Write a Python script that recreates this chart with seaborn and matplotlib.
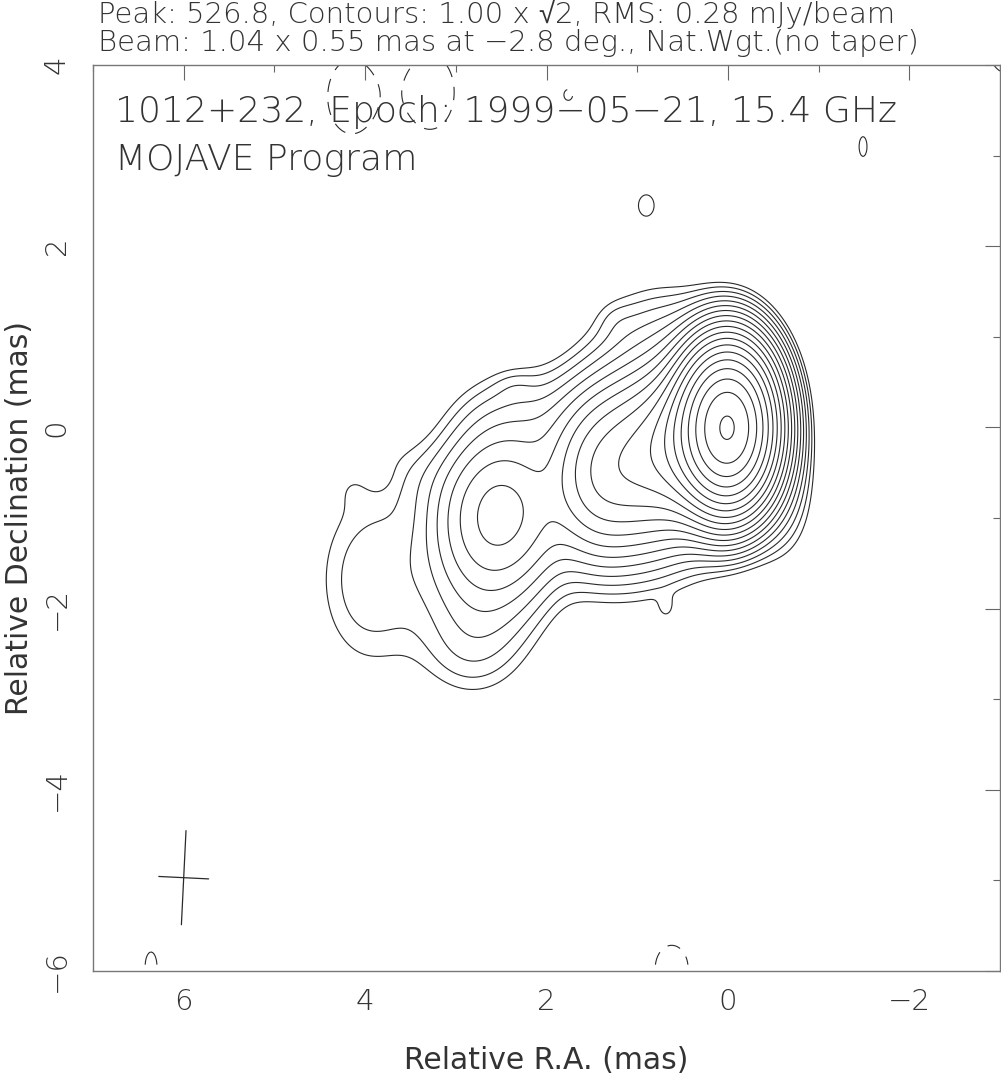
import numpy as np
import matplotlib
matplotlib.use("Agg")
import matplotlib.pyplot as plt
import seaborn as sns

# map header values
peak_flux = 526.8
base_level = 1.00
rms = 0.28
beam_major, beam_minor, beam_pa = 1.04, 0.55, -2.8
beam_ra, beam_dec = 6.0, -4.97

# gaussian components
# RA (mas), Dec (mas), peak (mJy/beam), sigma RA (mas), sigma Dec (mas)
comp_ra = [0.0, 0.45, 0.95, 1.45, 2.5, 1.0, 2.7, 2.3, 0.7, 3.5, 2.9, -0.6, 0.68,
           3.95, 4.15, 2.35, 1.25, 3.85]
comp_dec = [0.0, -0.15, -0.35, -0.55, -0.92, -0.45, -1.6, 0.05, 1.0, -0.5, -2.5, -0.8, -2.0,
            -1.68, -0.65, 0.45, 1.2, -0.55]
comp_peak = [520.0, 40.0, 22.0, 13.0, 11.0, 5.0, 3.5, 2.0, 2.0, 0.6, 0.7, 1.5, 0.6,
             1.8, 0.35, 0.35, 0.35, -0.3]
comp_sra = [0.265, 0.30, 0.35, 0.30, 0.40, 0.60, 0.45, 0.50, 0.45, 0.30, 0.35, 0.25, 0.07,
            0.44, 0.18, 0.15, 0.15, 0.15]
comp_sdec = [0.442, 0.45, 0.50, 0.50, 0.50, 0.75, 0.70, 0.40, 0.40, 0.30, 0.35, 0.50, 0.10,
             0.75, 0.18, 0.12, 0.15, 0.15]

# small noise patches around the field
noise_ra = [0.9, -1.49, 6.36, 3.81, -0.89, -3.1, 4.15, 3.28, 1.76, 0.62]
noise_dec = [2.45, 3.1, -5.95, -5.62, -2.52, 4.1, 3.65, 3.7, 3.67, -5.97]
noise_peak = [1.35, 1.1, 1.3, 1.02, 1.02, 1.6, -1.6, -1.6, -1.2, -1.3]
noise_sra = [0.11, 0.10, 0.09, 0.02, 0.02, 0.2, 0.27, 0.27, 0.08, 0.25]
noise_sdec = [0.15, 0.25, 0.22, 0.02, 0.02, 0.2, 0.42, 0.42, 0.10, 0.35]

title_lines = [
    "Peak: 526.8, Contours: 1.00 x \u221a2, RMS: 0.28 mJy/beam",
    "Beam: 1.04 x 0.55 mas at \u22122.8 deg., Nat.Wgt.(no taper)",
]
source_label = "1012+232, Epoch: 1999\u221205\u221221, 15.4 GHz"
program_label = "MOJAVE Program"

# build the map
ra = np.linspace(7.0, -3.0, 701)
dec = np.linspace(-5.93, 4.0, 700)
RA, DEC = np.meshgrid(ra, dec)
img = np.zeros_like(RA)
for x0, y0, p, sx, sy in zip(comp_ra + noise_ra, comp_dec + noise_dec,
                             comp_peak + noise_peak, comp_sra + noise_sra,
                             comp_sdec + noise_sdec):
    img += p * np.exp(-0.5 * (((RA - x0) / sx) ** 2 + ((DEC - y0) / sy) ** 2))

nmax = int(np.floor(2 * np.log2(peak_flux / base_level)))
pos_levels = base_level * np.sqrt(2) ** np.arange(nmax + 1)

sns.set_style("white")
plt.rcParams['font.family'] = ['DejaVu Sans', 'Liberation Sans', 'Noto Sans']
plt.rcParams['font.weight'] = 'light'
plt.rcParams['axes.unicode_minus'] = True

fig = plt.figure(figsize=(10.01, 10.79), dpi=100)
ax = fig.add_axes([93 / 1001, 1 - 971 / 1079, 907 / 1001, 906 / 1079])

line_col = '#2a2a2a'
ax.contour(RA, DEC, img, levels=pos_levels, colors=line_col, linewidths=0.8)
ax.contour(RA, DEC, img, levels=[-base_level], colors=line_col, linewidths=0.8,
           linestyles=[(0, (12, 9))])

# beam cross
pa = np.deg2rad(beam_pa)
maj = 0.5 * beam_major * np.array([np.sin(pa), np.cos(pa)])
mnr = 0.5 * beam_minor * np.array([np.cos(pa), -np.sin(pa)])
ax.plot([beam_ra - maj[0], beam_ra + maj[0]], [beam_dec - maj[1], beam_dec + maj[1]],
        color=line_col, lw=0.9)
ax.plot([beam_ra - mnr[0], beam_ra + mnr[0]], [beam_dec - mnr[1], beam_dec + mnr[1]],
        color=line_col, lw=0.9)

ax.set_xlim(7, -3)
ax.set_ylim(-6, 4)
ax.set_xticks([6, 4, 2, 0, -2])
ax.set_yticks([-6, -4, -2, 0, 2, 4])
ax.set_xticks(np.arange(-3, 8, 1), minor=True)
ax.set_yticks(np.arange(-6, 5, 1), minor=True)
ax.tick_params(which='both', direction='in', top=True, right=True, color='#666666',
               width=0.8, labelsize=21, labelcolor='#333333')
ax.tick_params(which='major', length=11)
ax.tick_params(which='minor', length=5)
ax.tick_params(axis='x', pad=12)
ax.tick_params(axis='y', pad=16, labelrotation=90)
for lab in ax.get_yticklabels():
    lab.set_va('center')
for sp in ax.spines.values():
    sp.set_color('#777777')
    sp.set_linewidth(1.0)

ax.set_xlabel("Relative R.A. (mas)", fontsize=21.5, color='#333333', labelpad=22)
ax.set_ylabel("Relative Declination (mas)", fontsize=21.5, color='#333333', labelpad=6)

fig.text(98 / 1001, 1 - 23 / 1079, title_lines[0], fontsize=21, color='#333333',
         ha='left', va='baseline')
fig.text(98 / 1001, 1 - 51 / 1079, title_lines[1], fontsize=21, color='#333333',
         ha='left', va='baseline')
fig.text(115 / 1001, 1 - 122 / 1079, source_label, fontsize=26, color='#333333',
         ha='left', va='baseline')
fig.text(115 / 1001, 1 - 170 / 1079, program_label, fontsize=26, color='#333333',
         ha='left', va='baseline')

fig.savefig("out.png", dpi=100)
